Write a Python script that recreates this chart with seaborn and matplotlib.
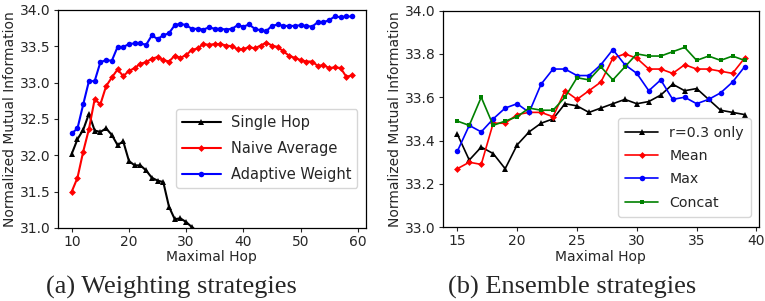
import numpy as np
import pandas as pd
import seaborn as sns
import matplotlib
matplotlib.use("Agg")
import matplotlib.pyplot as plt

# (a) weighting strategies
hops_a = list(range(10, 60))
single_hop = [32.02, 32.22, 32.35, 32.57, 32.34, 32.32, 32.37, 32.28, 32.14, 32.19,
              31.92, 31.86, 31.86, 31.79, 31.69, 31.65, 31.63, 31.29, 31.12, 31.13,
              31.08, 31.01, 30.95, 30.90, 30.86, 30.80, 30.77, 30.72, 30.68, 30.65,
              30.60, 30.58, 30.55, 30.50, 30.48, 30.45, 30.42, 30.40, 30.36, 30.33,
              30.30, 30.28, 30.25, 30.22, 30.20, 30.18, 30.15, 30.12, 30.10, 30.08]
naive_avg = [31.50, 31.69, 32.05, 32.36, 32.77, 32.70, 32.95, 33.07, 33.18, 33.09,
             33.16, 33.20, 33.26, 33.28, 33.33, 33.35, 33.31, 33.29, 33.37, 33.34,
             33.38, 33.45, 33.47, 33.53, 33.52, 33.53, 33.53, 33.51, 33.50, 33.46,
             33.46, 33.49, 33.47, 33.51, 33.55, 33.51, 33.49, 33.43, 33.37, 33.34,
             33.31, 33.29, 33.29, 33.23, 33.24, 33.20, 33.21, 33.20, 33.08, 33.10]
adaptive = [32.30, 32.37, 32.70, 33.02, 33.02, 33.28, 33.31, 33.30, 33.49, 33.49,
            33.53, 33.54, 33.54, 33.52, 33.65, 33.60, 33.65, 33.68, 33.79, 33.81,
            33.79, 33.74, 33.74, 33.73, 33.76, 33.74, 33.74, 33.73, 33.74, 33.79,
            33.77, 33.80, 33.74, 33.72, 33.71, 33.78, 33.80, 33.78, 33.78, 33.78,
            33.79, 33.78, 33.77, 33.83, 33.83, 33.86, 33.91, 33.90, 33.91, 33.91]

# (b) ensemble strategies
hops_b = list(range(15, 40))
r03_only = [33.43, 33.31, 33.37, 33.34, 33.27, 33.38, 33.44, 33.48, 33.50, 33.57,
            33.56, 33.53, 33.55, 33.57, 33.59, 33.57, 33.58, 33.61, 33.66, 33.63,
            33.64, 33.59, 33.54, 33.53, 33.52]
mean_ens = [33.27, 33.30, 33.29, 33.48, 33.48, 33.52, 33.53, 33.53, 33.51, 33.63,
            33.59, 33.63, 33.67, 33.78, 33.80, 33.78, 33.73, 33.73, 33.71, 33.75,
            33.73, 33.73, 33.72, 33.71, 33.78]
max_ens = [33.35, 33.47, 33.44, 33.50, 33.55, 33.57, 33.53, 33.66, 33.73, 33.73,
           33.70, 33.70, 33.75, 33.82, 33.75, 33.71, 33.63, 33.68, 33.59, 33.60,
           33.57, 33.59, 33.62, 33.67, 33.74]
concat_ens = [33.49, 33.47, 33.60, 33.47, 33.49, 33.51, 33.55, 33.54, 33.54, 33.60,
              33.69, 33.68, 33.74, 33.68, 33.74, 33.80, 33.79, 33.79, 33.81, 33.83,
              33.77, 33.79, 33.77, 33.79, 33.77]

sns.set_style("ticks")
plt.rcParams["font.family"] = ["DejaVu Sans"]
plt.rcParams["axes.edgecolor"] = "black"

fig, (ax1, ax2) = plt.subplots(1, 2, figsize=(7.65, 3.01), dpi=100)
ax1.set_position([0.0755, 0.243, 0.403, 0.724])
ax2.set_position([0.579, 0.245, 0.413, 0.720])

df_a = pd.DataFrame({"hop": hops_a, "single": single_hop,
                     "naive": naive_avg, "adaptive": adaptive})
sns.lineplot(data=df_a, x="hop", y="single", color="k", marker="^",
             markersize=4, markeredgewidth=0, lw=1.5, label="Single Hop", ax=ax1)
sns.lineplot(data=df_a, x="hop", y="naive", color="r", marker="D",
             markersize=3.5, markeredgewidth=0, lw=1.5, label="Naive Average", ax=ax1)
sns.lineplot(data=df_a, x="hop", y="adaptive", color="b", marker="o",
             markersize=4, markeredgewidth=0, lw=1.5, label="Adaptive Weight", ax=ax1)
ax1.set_ylim(31.0, 34.0)
ax1.set_yticks(np.arange(31.0, 34.01, 0.5))
ax1.set_xticks([10, 20, 30, 40, 50, 60])
ax1.legend(loc="lower right", bbox_to_anchor=(0.972, 0.183), borderaxespad=0,
           fontsize=10.5, handlelength=2.7, handletextpad=0.7,
           borderpad=0.4, labelspacing=0.75)

df_b = pd.DataFrame({"hop": hops_b, "r03": r03_only, "mean": mean_ens,
                     "max": max_ens, "concat": concat_ens})
sns.lineplot(data=df_b, x="hop", y="r03", color="k", marker="^",
             markersize=4, markeredgewidth=0, lw=1.2, label="r=0.3 only", ax=ax2)
sns.lineplot(data=df_b, x="hop", y="mean", color="r", marker="D",
             markersize=3.5, markeredgewidth=0, lw=1.2, label="Mean", ax=ax2)
sns.lineplot(data=df_b, x="hop", y="max", color="b", marker="o",
             markersize=4, markeredgewidth=0, lw=1.2, label="Max", ax=ax2)
sns.lineplot(data=df_b, x="hop", y="concat", color="g", marker="s",
             markersize=3.5, markeredgewidth=0, lw=1.2, label="Concat", ax=ax2)
ax2.set_ylim(33.0, 34.0)
ax2.set_yticks(np.arange(33.0, 34.01, 0.2))
ax2.set_xticks([15, 20, 25, 30, 35, 40])
ax2.legend(loc="lower right", bbox_to_anchor=(0.975, 0.049), borderaxespad=0,
           fontsize=10.2, handlelength=2.3, handletextpad=0.8,
           borderpad=0.5, labelspacing=0.66)

for ax in (ax1, ax2):
    ax.set_xlabel("Maximal Hop", fontsize=10, labelpad=1)
    ax.set_ylabel("Normalized Mutual Information", fontsize=10, labelpad=2)
    ax.tick_params(labelsize=10, length=3, width=0.8, pad=2)
    for s in ax.spines.values():
        s.set_linewidth(0.9)
    ax.yaxis.set_major_formatter(matplotlib.ticker.FormatStrFormatter("%.1f"))

fig.text(0.2235, 0.023, "(a) Weighting strategies", ha="center",
         fontsize=19, family="Liberation Serif")
fig.text(0.748, 0.023, "(b) Ensemble strategies", ha="center",
         fontsize=19, family="Liberation Serif")

fig.savefig("out.png", dpi=100)
